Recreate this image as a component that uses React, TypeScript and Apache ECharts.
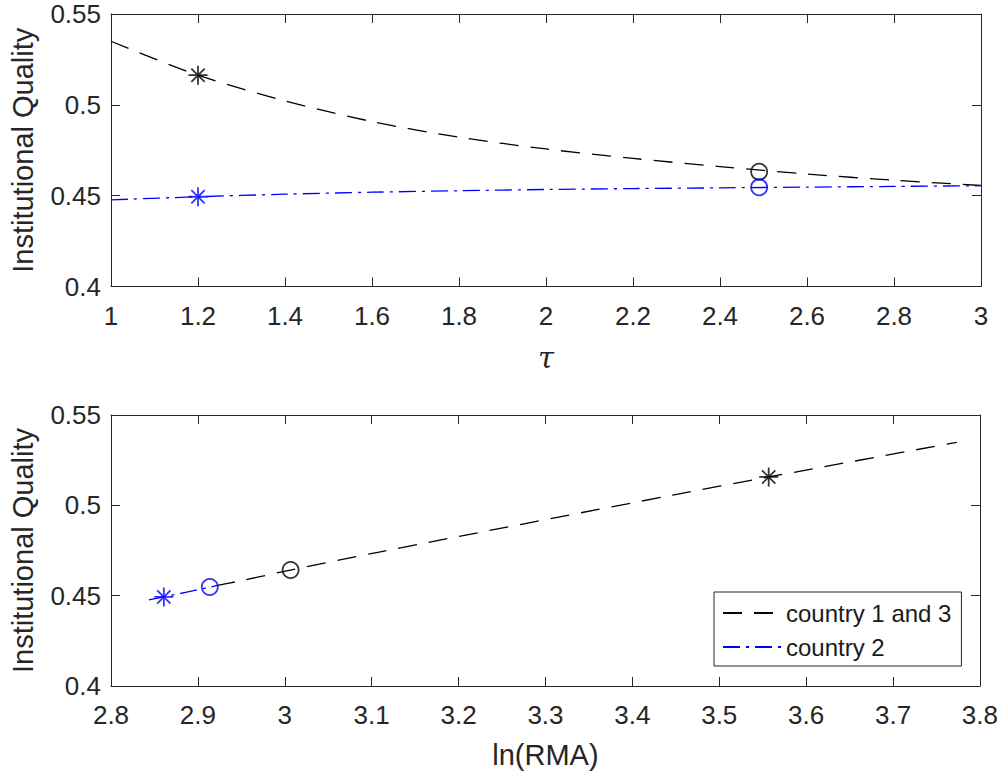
import React, { useEffect, useRef } from "react";
import * as echarts from "echarts";

// ---- data ----
const tau = [1, 1.2, 1.4, 1.6, 1.8, 2, 2.2, 2.4, 2.6, 2.8, 3];
const iqC13 = [0.535, 0.5163, 0.5022, 0.4908, 0.4822, 0.4757, 0.4705, 0.466, 0.4619, 0.4585, 0.4556];
const iqC2 = [0.4477, 0.4494, 0.4508, 0.4519, 0.4527, 0.4534, 0.4539, 0.4543, 0.4547, 0.4551, 0.4555];

const lnRmaC13 = [2.921, 2.95, 3.0067, 3.11, 3.4466, 3.5569, 3.7733];
const iqC13Bottom = [0.4555, 0.4583, 0.4642, 0.4743, 0.5057, 0.5157, 0.5349];
const lnRmaC2 = [2.8436, 2.8608, 2.9137, 2.921];
const iqC2Bottom = [0.4477, 0.4493, 0.4547, 0.4555];

// markers: [country 1 and 3, country 2]
const starTau = 1.2;
const circleTau = 2.49;
const starIqTop = [0.5163, 0.4494];
const circleIqTop = [0.4632, 0.4546];
const starLnRma = [3.5569, 2.8608];
const starIqBottom = [0.5157, 0.4493];
const circleLnRma = [3.0067, 2.9137];
const circleIqBottom = [0.4642, 0.4548];

const yTicks = { min: 0.4, max: 0.55, interval: 0.05 };
const xTopTicks = { min: 1, max: 3, interval: 0.2 };
const xBottomTicks = { min: 2.8, max: 3.8, interval: 0.1 };

const names = ["country 1 and 3", "country 2"];
const colors = ["#000000", "#0000ff"];

const AXIS = "#262626";
const FONT = "'Liberation Sans', Arial, Helvetica, sans-serif";
const STAR = "path://M0,-10L0,10M-10,0L10,0M-7,-7L7,7M-7,7L7,-7";

export default function App() {
  const ref = useRef<HTMLDivElement>(null);

  useEffect(() => {
    document.body.style.margin = "0";
    if (!ref.current) return;
    const chart = echarts.init(ref.current, null, { renderer: "svg" });

    const mkX = (grid: number, t: any, show: boolean, name?: string, nameGap?: number, italic?: boolean) => ({
      type: "value",
      gridIndex: grid,
      position: show ? "bottom" : "top",
      min: t.min,
      max: t.max,
      interval: t.interval,
      name: name,
      nameLocation: "middle",
      nameGap: nameGap,
      nameTextStyle: {
        fontSize: 29,
        color: AXIS,
        fontFamily: italic ? "'DejaVu Serif', 'Liberation Serif', serif" : FONT,
        fontStyle: italic ? "italic" : "normal",
      },
      axisLine: { show: true, onZero: false, lineStyle: { color: AXIS, width: 1 } },
      axisTick: { show: true, inside: true, length: 9, lineStyle: { color: AXIS, width: 1 } },
      axisLabel: { show: show, margin: 16, fontSize: 26, color: AXIS, fontFamily: FONT },
      splitLine: { show: false },
    });

    const mkY = (grid: number, show: boolean) => ({
      type: "value",
      gridIndex: grid,
      position: show ? "left" : "right",
      min: yTicks.min,
      max: yTicks.max,
      interval: yTicks.interval,
      name: show ? "Institutional Quality" : undefined,
      nameLocation: "middle",
      nameGap: 74,
      nameTextStyle: { fontSize: 29, color: AXIS, fontFamily: FONT },
      axisLine: { show: true, onZero: false, lineStyle: { color: AXIS, width: 1 } },
      axisTick: { show: true, inside: true, length: 9, lineStyle: { color: AXIS, width: 1 } },
      axisLabel: { show: show, margin: 10, fontSize: 26, color: AXIS, fontFamily: FONT },
      splitLine: { show: false },
    });

    const lineStyles = [
      { color: colors[0], width: 1.3, type: [19, 12] },
      { color: colors[1], width: 1.3, type: [17, 6, 3, 6] },
    ];

    const lineSeries = (name: string, xi: number, yi: number, data: number[][], ls: any) => ({
      type: "line",
      name,
      xAxisIndex: xi,
      yAxisIndex: yi,
      data,
      symbol: "none",
      smooth: 0.3,
      lineStyle: ls,
      itemStyle: { color: ls.color },
      z: 2,
    });

    const markerSeries = (id: string, xi: number, yi: number, pt: number[], symbol: string, color: string, size: number) => ({
      type: "scatter",
      name: id,
      xAxisIndex: xi,
      yAxisIndex: yi,
      data: [pt],
      symbol,
      symbolSize: size,
      itemStyle: { color: "rgba(0,0,0,0)", borderColor: color, borderWidth: 1.8 },
      z: 3,
    });

    const series: any[] = [
      lineSeries(names[0], 0, 0, tau.map((t, i) => [t, iqC13[i]]), lineStyles[0]),
      lineSeries(names[1], 0, 0, tau.map((t, i) => [t, iqC2[i]]), lineStyles[1]),
      lineSeries(names[0], 2, 2, lnRmaC13.map((x, i) => [x, iqC13Bottom[i]]), lineStyles[0]),
      lineSeries(names[1], 2, 2, lnRmaC2.map((x, i) => [x, iqC2Bottom[i]]), lineStyles[1]),
    ];
    for (let k = 0; k < 2; k++) {
      series.push(markerSeries("star top " + k, 0, 0, [starTau, starIqTop[k]], STAR, colors[k], 19));
      series.push(markerSeries("circle top " + k, 0, 0, [circleTau, circleIqTop[k]], "circle", colors[k], 16));
      series.push(markerSeries("star bottom " + k, 2, 2, [starLnRma[k], starIqBottom[k]], STAR, colors[k], 19));
      series.push(markerSeries("circle bottom " + k, 2, 2, [circleLnRma[k], circleIqBottom[k]], "circle", colors[k], 16));
    }

    chart.setOption({
      animation: false,
      backgroundColor: "#ffffff",
      grid: [
        { left: 110, top: 14, width: 871, height: 272.5 },
        { left: 110, top: 415, width: 871, height: 271 },
      ],
      xAxis: [
        mkX(0, xTopTicks, true, "τ", 57, true),
        mkX(0, xTopTicks, false),
        mkX(1, xBottomTicks, true, "ln(RMA)", 54, false),
        mkX(1, xBottomTicks, false),
      ],
      yAxis: [mkY(0, true), mkY(0, false), mkY(1, true), mkY(1, false)],
      legend: {
        data: names,
        orient: "vertical",
        left: 714,
        top: 592,
        padding: [9, 10, 7, 8],
        itemWidth: 58,
        itemHeight: 24,
        itemGap: 10,
        borderColor: AXIS,
        borderWidth: 1,
        backgroundColor: "#ffffff",
        selectedMode: false,
        itemStyle: { color: "rgba(0,0,0,0)", borderWidth: 0, opacity: 0 },
        textStyle: { fontSize: 24, color: "#1a1a1a", fontFamily: FONT, lineHeight: 24 },
      },
      series,
    });

    return () => chart.dispose();
  }, []);

  return <div ref={ref} style={{ width: 1001, height: 775 }} />;
}
